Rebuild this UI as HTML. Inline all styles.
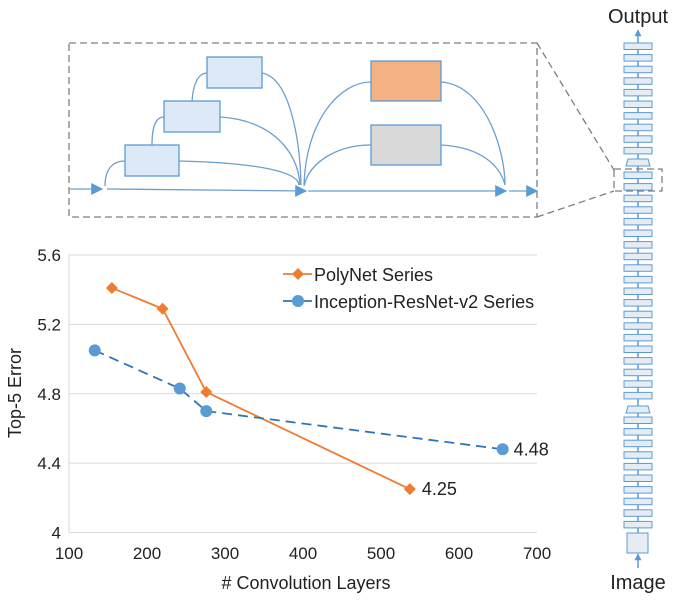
<!DOCTYPE html>
<html><head><meta charset="utf-8">
<style>
html,body{margin:0;padding:0;background:#fff;}
svg{display:block;font-family:"Liberation Sans","Noto Sans CJK SC",sans-serif;}
</style></head>
<body>
<svg id="fig" width="690" height="604" viewBox="0 0 690 604">
<defs>
<marker id="ah" viewBox="0 0 10 10" refX="9" refY="5" markerWidth="7" markerHeight="7" orient="auto" markerUnits="userSpaceOnUse"><path d="M0,0 L10,5 L0,10z" fill="#5b9bd5"/></marker>
<marker id="ahs" viewBox="0 0 10 10" refX="9" refY="5" markerWidth="12" markerHeight="12" orient="auto" markerUnits="userSpaceOnUse"><path d="M0,0 L10,5 L0,10z" fill="#5b9bd5"/></marker>
</defs>
<g fill="none" stroke="#6a9fd0" stroke-width="1.3">
<rect x="69" y="43" width="468" height="174" stroke="#7f7f7f" stroke-dasharray="7,4"/>
<line x1="537" y1="43" x2="614" y2="170" stroke="#7f7f7f" stroke-dasharray="7,4"/>
<line x1="537" y1="217" x2="614" y2="191" stroke="#7f7f7f" stroke-dasharray="7,4"/>
<line x1="69" y1="189" x2="102" y2="189" marker-end="url(#ahs)"/>
<line x1="107" y1="189" x2="306" y2="191" marker-end="url(#ahs)"/>
<line x1="308" y1="191" x2="506" y2="191" marker-end="url(#ahs)"/>
<line x1="509" y1="191" x2="537" y2="191" marker-end="url(#ahs)"/>
<path d="M105,186 C105,170 112,161 125,161"/>
<path d="M179,161 C260,163 298,172 299,185"/>
<path d="M152,145 C152,128 155,117 164,117"/>
<path d="M220,117 C270,120 298,150 300,185"/>
<path d="M192,101 C193,85 198,73 207,73"/>
<path d="M262,73 C290,78 300,140 301,185"/>
<path d="M304,185 C306,120 340,82 371,82"/>
<path d="M304,186 C310,160 340,145 371,145"/>
<path d="M441,82 C485,85 505,150 505,185"/>
<path d="M441,145 C480,147 500,165 505,185"/>
<rect x="125" y="145" width="54" height="31" fill="#dde9f6" stroke="#5b9bd5"/>
<rect x="164" y="101" width="56" height="31" fill="#dde9f6" stroke="#5b9bd5"/>
<rect x="207" y="57" width="55" height="31" fill="#dde9f6" stroke="#5b9bd5"/>
<rect x="371" y="61" width="70" height="40" fill="#f4b183" stroke="#5b9bd5"/>
<rect x="371" y="125" width="70" height="40" fill="#d9d9d9" stroke="#5b9bd5"/>
</g>
<g id="column"></g>
<text x="638" y="23" font-size="20" text-anchor="middle" fill="#222">Output</text>
<text x="638" y="589" font-size="20" text-anchor="middle" fill="#222">Image</text>
<g id="chart"></g>
</svg>
<script>
const xTicks=[100,200,300,400,500,600,700];
const yTicks=[4,4.4,4.8,5.2,5.6];
const yTickLabels=["4","4.4","4.8","5.2","5.6"];
const polyX=[155,220,276,537];
const polyY=[5.41,5.29,4.81,4.25];
const incX=[133,242,276,656];
const incY=[5.05,4.83,4.70,4.48];
const seriesNames=["PolyNet Series","Inception-ResNet-v2 Series"];
const NS="http://www.w3.org/2000/svg";
const L=69,R=537,T=255,B=532.5;
const sx=v=>L+(v-100)/600*(R-L);
const sy=v=>B-(v-4)/1.6*(B-T);
const chart=document.getElementById('chart');
function mk(tag,attrs,parent){const e=document.createElementNS(NS,tag);for(const k in attrs)e.setAttribute(k,attrs[k]);(parent||chart).appendChild(e);return e;}
yTicks.forEach((t,i)=>{
  const g=mk('line',{x1:L,x2:R,y1:sy(t),y2:sy(t),stroke:'#d9d9d9','stroke-width':1});
  
  
  const tx=mk('text',{x:L-8,y:sy(t)+6,'font-size':17,'text-anchor':'end',fill:'#222'});
  tx.textContent=yTickLabels[i];
  
  
});
const ax=mk('line',{x1:L,x2:L,y1:T,y2:B,stroke:'#d9d9d9'});


xTicks.forEach(t=>{
  const tx=mk('text',{x:sx(t),y:559,'font-size':17,'text-anchor':'middle',fill:'#222'});
  tx.textContent=t;
  
  
});
const xt=mk('text',{x:306,y:589,'font-size':18,'text-anchor':'middle',fill:'#222'});
xt.textContent='# Convolution Layers';


const yt=mk('text',{x:0,y:0,'font-size':18,'text-anchor':'middle',fill:'#222',transform:'translate(21,393) rotate(-90)'});
yt.textContent='Top-5 Error';


function diamond(cx,cy,r){return `M${cx},${cy-r}L${cx+r},${cy}L${cx},${cy+r}L${cx-r},${cy}Z`;}
const pp=mk('polyline',{points:polyX.map((x,i)=>sx(x)+','+sy(polyY[i])).join(' '),fill:'none',stroke:'#ed7d31','stroke-width':1.8});


const ip=mk('polyline',{points:incX.map((x,i)=>sx(x)+','+sy(incY[i])).join(' '),fill:'none',stroke:'#2e75b6','stroke-width':1.8,'stroke-dasharray':'10,6'});


polyX.forEach((x,i)=>{
  const m=mk('path',{d:diamond(sx(x),sy(polyY[i]),6),fill:'#ed7d31'});
  
  
});
incX.forEach((x,i)=>{
  const m=mk('circle',{cx:sx(x),cy:sy(incY[i]),r:6,fill:'#5b9bd5'});
  
  
});
const l1=mk('text',{x:sx(polyX[3])+12,y:sy(polyY[3])+6,'font-size':18,fill:'#222'});
l1.textContent=polyY[3].toFixed(2);


const l2=mk('text',{x:sx(incX[3])+11,y:sy(incY[3])+6,'font-size':18,fill:'#222'});
l2.textContent=incY[3].toFixed(2);


const lg=mk('g',{});


mk('line',{x1:283,x2:312,y1:274,y2:274,stroke:'#ed7d31','stroke-width':1.8},lg);
mk('path',{d:diamond(298,274,6),fill:'#ed7d31'},lg);
mk('line',{x1:283,x2:312,y1:301,y2:301,stroke:'#2e75b6','stroke-width':1.8},lg);
mk('circle',{cx:298,cy:301,r:6,fill:'#5b9bd5'},lg);
seriesNames.forEach((n,i)=>{
  const t=mk('text',{x:314,y:281+27*i,'font-size':18,fill:'#222'},lg);
  t.textContent=n;
  
  
});
const col=document.getElementById('column');
mk('line',{x1:638,x2:638,y1:42,y2:30,stroke:'#5b9bd5','stroke-width':1.5,'marker-end':'url(#ah)'},col);
mk('line',{x1:638,x2:638,y1:42,y2:533,stroke:'#5b9bd5','stroke-width':1.5},col);
function block(y){const r=mk('rect',{x:624,y:y,width:28,height:6.5,fill:'#e6ecf3',stroke:'#5b9bd5','stroke-width':1},col);}
function trap(y){const p=mk('path',{d:`M628,${y} L648,${y} L650,${y+7} L626,${y+7}Z`,fill:'#e6ecf3',stroke:'#5b9bd5','stroke-width':1},col);}
for(let i=0;i<10;i++)block(43+i*11.6);
trap(159);
for(let i=0;i<20;i++)block(172+i*11.6);
trap(406);
for(let i=0;i<10;i++)block(417+i*11.6);
const sq=mk('rect',{x:627,y:533,width:21,height:20,fill:'#e6ecf3',stroke:'#5b9bd5','stroke-width':1},col);


mk('line',{x1:638,x2:638,y1:568,y2:554,stroke:'#5b9bd5','stroke-width':1.5,'marker-end':'url(#ah)'},col);
mk('rect',{x:614,y:169,width:48,height:22,fill:'none',stroke:'#7f7f7f','stroke-dasharray':'7,4','stroke-width':1.3},col);
</script>
</body></html>
